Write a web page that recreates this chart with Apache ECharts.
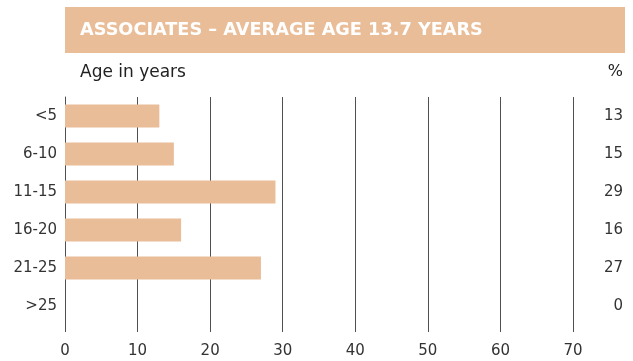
<!DOCTYPE html>
<html>
<head>
<meta charset="utf-8">
<script src="https://cdn.jsdelivr.net/npm/echarts@6/dist/echarts.min.js"></script>
<style>
  html, body { margin: 0; padding: 0; background: #fff; }
  #chart { width: 633px; height: 361px; }
</style>
</head>
<body>
<div id="chart"></div>
<script>
// Age bands of associates and their share in percent
const categories = ['<5', '6-10', '11-15', '16-20', '21-25', '>25'];
const shares = [13, 15, 29, 16, 27, 0];
const xTicks = [0, 10, 20, 30, 40, 50, 60, 70];

const FONT = 'DejaVu Sans';
const TAN = '#e9bd98';
const LINE = '#505050';
const INK = '#333';

const chart = echarts.init(document.getElementById('chart'));
chart.setOption({
  animation: false,
  backgroundColor: '#fff',
  textStyle: { fontFamily: FONT },
  graphic: [
    { type: 'rect', left: 65, top: 7, shape: { width: 560, height: 46 }, style: { fill: TAN } },
    { type: 'text', left: 80, top: 21, style: { text: 'ASSOCIATES – AVERAGE AGE 13.7 YEARS', fill: '#fff', font: 'bold 17.7px ' + FONT } },
    { type: 'text', left: 80, top: 64, style: { text: 'Age in years', fill: '#222', font: '17px ' + FONT } },
    { type: 'text', right: 10, top: 64, style: { text: '%', fill: '#222', font: '16px ' + FONT, align: 'right' } }
  ],
  grid: { left: 65, top: 97, width: 508, height: 228, containLabel: false },
  xAxis: {
    type: 'value', min: xTicks[0], max: xTicks[xTicks.length - 1], interval: 10,
    axisLine: { show: false },
    axisTick: { show: true, length: 7, lineStyle: { color: LINE, width: 1 } },
    splitLine: { show: true, lineStyle: { color: LINE, width: 1 } },
    axisLabel: { color: INK, fontSize: 15, fontFamily: FONT, margin: 19 }
  },
  yAxis: [
    {
      type: 'category', data: categories, inverse: true,
      axisLine: { show: true, lineStyle: { color: LINE, width: 1 } },
      axisTick: { show: false },
      axisLabel: { color: INK, fontSize: 15, fontFamily: FONT, margin: 8 }
    },
    {
      type: 'category', data: shares.map(String), inverse: true, position: 'right',
      axisLine: { show: false }, axisTick: { show: false },
      axisLabel: { color: INK, fontSize: 15, fontFamily: FONT, align: 'right', margin: 50 }
    }
  ],
  series: [{
    type: 'bar', data: shares, barWidth: 23,
    itemStyle: { color: TAN },
    silent: true
  }]
});
</script>
</body>
</html>
